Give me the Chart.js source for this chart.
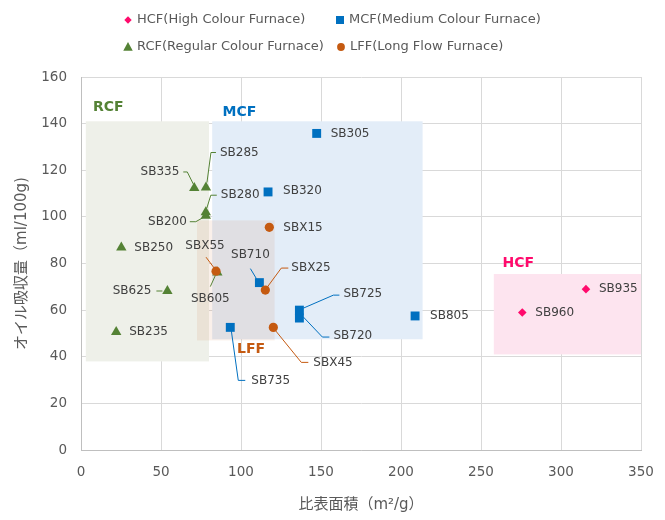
<!DOCTYPE html>
<html>
<head>
<meta charset="utf-8">
<script src="https://cdn.jsdelivr.net/npm/chart.js@4/dist/chart.umd.min.js"></script>
<style>
  html, body { margin: 0; padding: 0; background: #fff; }
  #wrap { width: 665px; height: 520px; position: relative; }
</style>
</head>
<body>
<div id="wrap"><canvas id="carbonChart"></canvas></div>
<script>
// series values (x: 比表面積 m2/g, y: オイル吸収量 ml/100g)
const hcfNames = ['SB935', 'SB960'];
const hcfX = [315.6, 275.8];
const hcfY = [69, 59];

const mcfNames = ['SB305', 'SB320', 'SB710', 'SB725', 'SB720', 'SB735', 'SB805'];
const mcfX = [147.3, 116.9, 111.5, 136.5, 136.5, 93.3, 208.8];
const mcfY = [135.8, 110.7, 71.8, 60, 56.6, 52.6, 57.5];

const rcfNames = ['SB335', 'SB285', 'SB280', 'SB200', 'SB250', 'SB625', 'SB235', 'SB605'];
const rcfX = [70.8, 78.1, 78, 78, 25.2, 54, 22, 85.2];
const rcfY = [112.4, 112.6, 102, 100.5, 86.9, 68.2, 50.6, 76.1];

const lffNames = ['SBX15', 'SBX55', 'SBX25', 'SBX45'];
const lffX = [117.7, 84.4, 115.2, 120.2];
const lffY = [95.5, 76.7, 68.6, 52.6];

const xTicks = [0, 50, 100, 150, 200, 250, 300, 350];
const yTicks = [0, 20, 40, 60, 80, 100, 120, 140, 160];

// grade regions
const regionNames = ['RCF', 'MCF', 'HCF', 'LFF'];
const regionX0 = [3, 82, 258, 72.5];
const regionX1 = [80, 213.5, 350, 121];
const regionY0 = [38, 47.5, 41, 47];
const regionY1 = [141, 141, 75.5, 98.5];

const seriesLabels = ['HCF(High Colour Furnace)', 'MCF(Medium Colour Furnace)',
  'RCF(Regular Colour Furnace)', 'LFF(Long Flow Furnace)'];

const colors = { HCF: '#ff0a6c', MCF: '#0070c0', RCF: '#548235', LFF: '#c55a11' };
const regionFill = {
  RCF: '#eef0e9', MCF: '#e3edf8', HCF: '#fde4ef', LFF: 'rgba(197, 90, 17, 0.09)'
};
// label text anchors per region (data coords)
const regionLabelPos = { RCF: [7.5, 147], MCF: [88.5, 145], LFF: [97.5, 43], HCF: [263.5, 80] };

// point label placement: pixel offset from the marker, optional leader line
const labelLayout = {
  SB935: { dx: 13, dy: 0 },
  SB960: { dx: 13, dy: 0 },
  SB305: { dx: 14, dy: 0 },
  SB320: { dx: 15, dy: -1 },
  SB710: { dx: -9, dy: -28, align: 'center', leader: [[-9, -14], [-3, -4]] },
  SB725: { dx: 44, dy: -16, leader: [[4, -2], [34, -15], [40, -15]] },
  SB720: { dx: 34, dy: 18, leader: [[4, -1], [23, 19], [30, 19]] },
  SB735: { dx: 21, dy: 53, leader: [[1, 3], [8, 53], [15, 53]] },
  SB805: { dx: 15, dy: 0 },
  SB335: { dx: -15, dy: -16, align: 'right', leader: [[-11, -16], [-7, -16], [-1, -4]] },
  SB285: { dx: 14, dy: -35, leader: [[10, -35], [5, -35], [1, -5]] },
  SB280: { dx: 15, dy: -17, leader: [[11, -17], [5, -17], [1, -4]] },
  SB200: { dx: -19, dy: 6, align: 'right', leader: [[-16, 6], [-10, 6], [-3, 2]] },
  SB250: { dx: 13, dy: 0 },
  SB625: { dx: -16, dy: 0, align: 'right', leader: [[-11, 0], [-5, 0]] },
  SB235: { dx: 13, dy: 0 },
  SB605: { dx: -7, dy: 26, align: 'center', leader: [[-2, 3], [-7, 14]] },
  SBX15: { dx: 14, dy: 1 },
  SBX55: { dx: -11, dy: -25, align: 'center', leader: [[-10, -14], [-1, -2]] },
  SBX25: { dx: 26, dy: -22, leader: [[23, -22], [16, -22], [2, -3]] },
  SBX45: { dx: 40, dy: 35, leader: [[2, 3], [28, 35], [35, 35]] }
};

const FONT = "'DejaVu Sans', 'Noto Sans CJK JP', sans-serif";
Chart.defaults.font.family = FONT;
Chart.defaults.color = '#595959';

function pts(xs, ys, names) {
  return xs.map((v, i) => ({ x: v, y: ys[i], name: names[i] }));
}

function marker(ctx, style, x, y, r) {
  ctx.beginPath();
  if (style === 'rect') {
    ctx.rect(x - r, y - r, 2 * r, 2 * r);
  } else if (style === 'rectRot') {
    ctx.moveTo(x, y - r); ctx.lineTo(x + r, y); ctx.lineTo(x, y + r); ctx.lineTo(x - r, y);
    ctx.closePath();
  } else if (style === 'triangle') {
    ctx.moveTo(x, y - r); ctx.lineTo(x + r * 0.95, y + r * 0.75); ctx.lineTo(x - r * 0.95, y + r * 0.75);
    ctx.closePath();
  } else {
    ctx.arc(x, y, r, 0, Math.PI * 2);
  }
  ctx.fill();
}

const overlayPlugin = {
  id: 'overlay',
  beforeDatasetsDraw(chart) {
    const { ctx, chartArea: a, scales: { x, y } } = chart;
    ctx.save();
    ctx.beginPath();
    ctx.rect(a.left, a.top, a.right - a.left, a.bottom - a.top);
    ctx.clip();
    regionNames.forEach((n, i) => {
      const x0 = x.getPixelForValue(regionX0[i]);
      const x1 = x.getPixelForValue(regionX1[i]);
      const y0 = y.getPixelForValue(regionY1[i]);
      const y1 = y.getPixelForValue(regionY0[i]);
      ctx.fillStyle = regionFill[n];
      ctx.fillRect(x0, y0, x1 - x0, y1 - y0);
    });
    ctx.restore();
  },
  afterDatasetsDraw(chart) {
    const { ctx, scales: { x, y } } = chart;
    ctx.save();
    // region names
    ctx.font = 'bold 14px ' + FONT;
    ctx.textAlign = 'left';
    ctx.textBaseline = 'middle';
    regionNames.forEach(n => {
      const p = regionLabelPos[n];
      ctx.fillStyle = colors[n];
      ctx.fillText(n, x.getPixelForValue(p[0]), y.getPixelForValue(p[1]));
    });
    // point labels
    ctx.font = '12px ' + FONT;
    chart.data.datasets.forEach((ds, di) => {
      const meta = chart.getDatasetMeta(di);
      meta.data.forEach((el, i) => {
        const name = ds.data[i].name;
        const lay = labelLayout[name] || { dx: 12, dy: 0 };
        if (lay.leader) {
          ctx.strokeStyle = ds.backgroundColor;
          ctx.lineWidth = 1;
          ctx.beginPath();
          lay.leader.forEach((o, k) => {
            if (k === 0) ctx.moveTo(el.x + o[0], el.y + o[1]);
            else ctx.lineTo(el.x + o[0], el.y + o[1]);
          });
          ctx.stroke();
        }
        ctx.fillStyle = '#404040';
        ctx.textAlign = lay.align || 'left';
        ctx.fillText(name, el.x + lay.dx, el.y + lay.dy);
      });
    });
    ctx.restore();
  },
  afterDraw(chart) {
    // legend, two rows
    const { ctx } = chart;
    const items = [
      { t: seriesLabels[0], c: colors.HCF, s: 'rectRot', r: 3.7, x: 128, y: 20 },
      { t: seriesLabels[1], c: colors.MCF, s: 'rect', r: 4, x: 340, y: 20 },
      { t: seriesLabels[2], c: colors.RCF, s: 'triangle', r: 5, x: 128, y: 47 },
      { t: seriesLabels[3], c: colors.LFF, s: 'circle', r: 3.9, x: 341, y: 47 }
    ];
    ctx.save();
    ctx.font = '13px ' + FONT;
    ctx.textBaseline = 'middle';
    ctx.textAlign = 'left';
    items.forEach(it => {
      ctx.fillStyle = it.c;
      marker(ctx, it.s, it.x, it.y, it.r);
      ctx.fillStyle = '#595959';
      ctx.fillText(it.t, it.x + 9, it.y);
    });
    ctx.restore();
  }
};

const ctx = document.getElementById('carbonChart').getContext('2d');
const carbonChart = new Chart(ctx, {
  type: 'scatter',
  data: {
    datasets: [
      {
        label: seriesLabels[0], data: pts(hcfX, hcfY, hcfNames),
        pointStyle: 'rectRot', pointRadius: 4.3, backgroundColor: colors.HCF,
        borderColor: colors.HCF, borderWidth: 0, order: 1
      },
      {
        label: seriesLabels[1], data: pts(mcfX, mcfY, mcfNames),
        pointStyle: 'rect', pointRadius: 6.3, backgroundColor: colors.MCF,
        borderColor: colors.MCF, borderWidth: 0, order: 1
      },
      {
        label: seriesLabels[2], data: pts(rcfX, rcfY, rcfNames),
        pointStyle: 'triangle', pointRadius: 6, backgroundColor: colors.RCF,
        borderColor: colors.RCF, borderWidth: 0, order: 1
      },
      {
        label: seriesLabels[3], data: pts(lffX, lffY, lffNames),
        pointStyle: 'circle', pointRadius: 4.6, backgroundColor: colors.LFF,
        borderColor: colors.LFF, borderWidth: 0, order: 0
      }
    ]
  },
  options: {
    responsive: true,
    maintainAspectRatio: false,
    animation: false,
    layout: { padding: { top: 77, right: 24, left: 0, bottom: 0 } },
    plugins: {
      legend: { display: false },
      tooltip: { enabled: false }
    },
    scales: {
      x: {
        type: 'linear', min: 0, max: 350,
        afterBuildTicks: s => { s.ticks = xTicks.map(v => ({ value: v })); },
        afterFit: s => { s.height = 70; s.paddingLeft = 0; s.paddingRight = 0; },
        grid: { color: '#d9d9d9', drawTicks: false },
        border: { color: '#bfbfbf' },
        ticks: { padding: 14, font: { size: 13.5 }, color: '#595959' },
        title: {
          display: true, text: '比表面積（m²/g）', color: '#595959',
          font: { size: 15 }, padding: { top: 0, bottom: 6 }
        }
      },
      y: {
        type: 'linear', min: 0, max: 160,
        afterBuildTicks: s => { s.ticks = yTicks.map(v => ({ value: v })); },
        afterFit: s => { s.width = 81; s.paddingTop = 0; s.paddingBottom = 0; },
        grid: { color: '#d9d9d9', drawTicks: false },
        border: { color: '#bfbfbf' },
        ticks: { padding: 14, font: { size: 13.5 }, color: '#595959' },
        title: {
          display: true, text: 'オイル吸収量（ml/100g)', color: '#595959',
          font: { size: 15 }, padding: { top: 13, bottom: 0 }
        }
      }
    }
  },
  plugins: [overlayPlugin]
});
</script>
</body>
</html>
